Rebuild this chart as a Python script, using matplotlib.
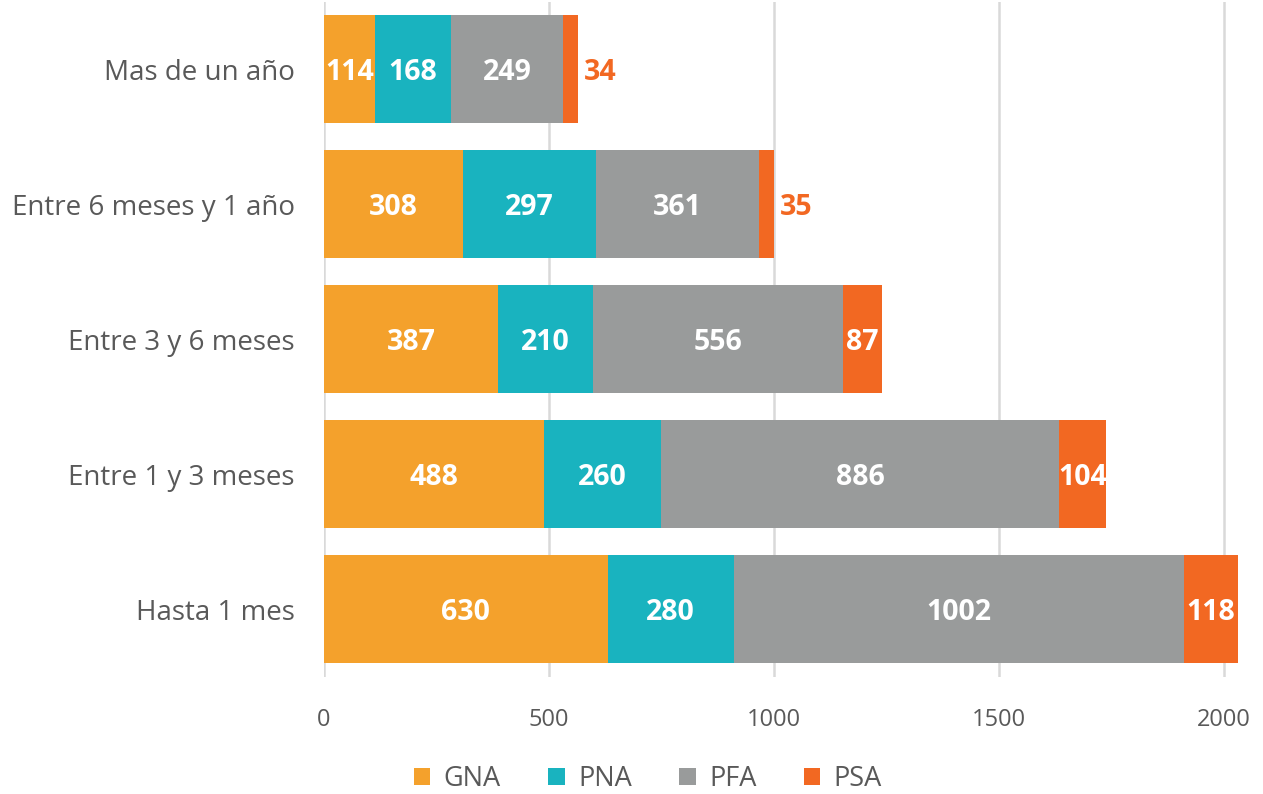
import matplotlib
matplotlib.use("Agg")
import matplotlib.pyplot as plt
from matplotlib.patches import Patch
import numpy as np

categories = ["Hasta 1 mes", "Entre 1 y 3 meses", "Entre 3 y 6 meses",
              "Entre 6 meses y 1 año", "Mas de un año"]
series = ["GNA", "PNA", "PFA", "PSA"]
GNA = [630, 488, 387, 308, 114]
PNA = [280, 260, 210, 297, 168]
PFA = [1002, 886, 556, 361, 249]
PSA = [118, 104, 87, 35, 34]
colors = ["#F4A12C", "#19B3BF", "#999B9B", "#F26822"]
xticks = [0, 500, 1000, 1500, 2000]

plt.rcParams['font.family'] = ['Open Sans', 'DejaVu Sans']

fig = plt.figure(figsize=(12.63, 7.94), dpi=100)
xmax = 2080
ax = fig.add_axes([324/1263, 1 - 677/794, xmax * 0.45 / 1263, 675.5/794])

y = np.arange(len(categories))
left = np.zeros(len(categories))
data = [GNA, PNA, PFA, PSA]
for vals, col, name in zip(data, colors, series):
    vals = np.array(vals, dtype=float)
    ax.barh(y, vals, left=left, height=0.8, color=col, zorder=3, label=name)
    for yi, (l, v) in enumerate(zip(left, vals)):
        if name == "PSA" and v < 60:
            ax.text(l + v + 12, yi, f"{int(v)}", ha='left', va='center_baseline',
                    color=col, fontsize=20.5, fontweight='bold', zorder=4)
        else:
            ax.text(l + v / 2, yi, f"{int(v)}", ha='center', va='center_baseline',
                    color='white', fontsize=20.5, fontweight='bold', zorder=4)
    left += vals

ax.set_xlim(0, xmax)
ax.set_ylim(-0.5, 4.5)
ax.set_xticks(xticks)
ax.set_xticklabels([str(t) for t in xticks])
ax.set_yticks(y)
ax.set_yticklabels(categories)
ax.grid(axis='x', color='#D9D9D9', linewidth=1.8, zorder=0)
ax.set_axisbelow(True)
for s in ax.spines.values():
    s.set_visible(False)
ax.tick_params(axis='x', length=0, labelsize=17, labelcolor='#595959', pad=22)
ax.tick_params(axis='y', length=0, labelsize=20, labelcolor='#595959', pad=21)

handles = [Patch(facecolor=c, label=n) for c, n in zip(colors, series)]
fig.legend(handles=handles, loc='center', bbox_to_anchor=(648/1263, 1 - 779/794),
           ncol=4, frameon=False, fontsize=19.5, handlelength=0.6, handleheight=0.6,
           handletextpad=0.5, columnspacing=1.75, labelcolor='#595959')

fig.savefig("out.png", dpi=100)
